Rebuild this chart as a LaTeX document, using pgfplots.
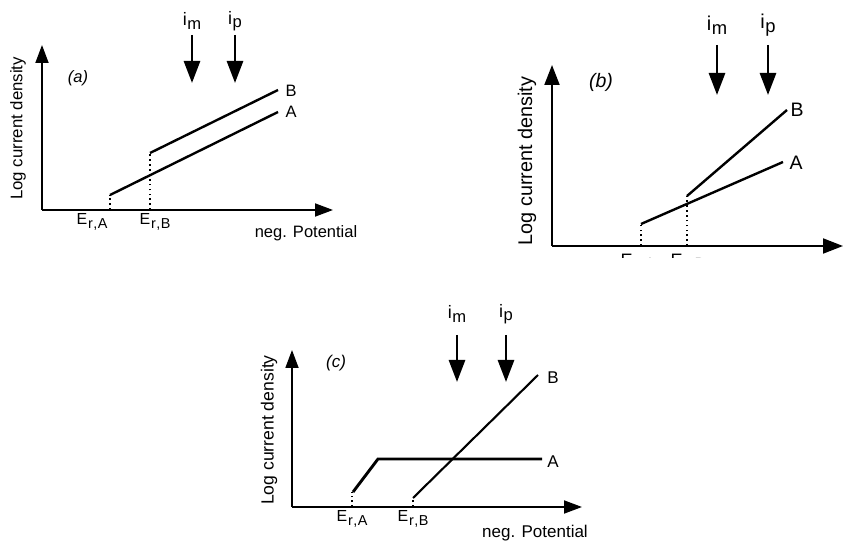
\documentclass[border=0pt]{standalone}
\usepackage{fontspec}
\setmainfont{Liberation Sans}
\usepackage{pgfplots}
\pgfplotsset{compat=1.18}
\usetikzlibrary{arrows.meta}

\pgfplotsset{panel/.style={
  scale only axis, axis lines=left,
  axis line style={line width=1.8pt, -{Triangle[width=13pt,length=18pt]}},
  xtick=\empty, ytick=\empty, clip=false,
  anchor=south west,
}}
\tikzset{
  curve/.style={line width=2.4pt},
  dots/.style={line width=1.7pt, dash pattern=on 1.7pt off 3.2pt},
  bigarrow/.style={line width=2.8pt, -{Triangle[width=16pt,length=22pt]}},
}
\newcommand{\Er}[1]{E\hspace{1pt}\raisebox{-0.2em}{\scalebox{0.9}{r\hspace{0.5pt},\hspace{0.5pt}#1}}}
\newcommand{\cur}[1]{i\hspace{0.5pt}\raisebox{-0.18em}{\scalebox{0.92}{#1}}}

\begin{document}
\begin{tikzpicture}
\path[use as bounding box] (0pt,0pt) rectangle (843pt,541pt);

% ---------- panel (a)
\begin{axis}[panel, at={(42pt,331pt)}, width=291pt, height=165pt,
  xmin=42, xmax=333, ymin=331, ymax=496,
  font=\fontsize{16.5}{19}\selectfont,
  ylabel={\fontsize{16.8}{19}\selectfont Log current density},
  ylabel style={at={(axis description cs:-0.0825,0.494)}, anchor=center}]
\addplot[curve] coordinates {(110,346) (278,429)};
\addplot[curve] coordinates {(150,388) (278,451)};
\addplot[dots] coordinates {(110,331) (110,346)};
\addplot[dots] coordinates {(150,331) (150,388)};
\node at (axis cs:291,450) {B};
\node at (axis cs:291,429) {A};
\node at (axis cs:78,463) {\itshape (a)};
\node[font=\fontsize{16}{18}\selectfont] at (axis cs:92,319) {\Er{A}};
\node[font=\fontsize{16}{18}\selectfont] at (axis cs:155,319) {\Er{B}};
\node at (axis cs:306,308) {neg. Potential};
\draw[bigarrow] (axis cs:192,506) -- (axis cs:192,458);
\draw[bigarrow] (axis cs:235,506) -- (axis cs:235,458);
\node[font=\fontsize{18}{20}\selectfont] at (axis cs:192,520) {\cur{m}};
\node[font=\fontsize{18}{20}\selectfont] at (axis cs:235,520) {\cur{p}};
\end{axis}

% ---------- panel (b)
\begin{scope}
\clip (440pt,283pt) rectangle (843pt,541pt);
\begin{axis}[panel, at={(552pt,295pt)}, width=291pt, height=181pt,
  xmin=552, xmax=843, ymin=295, ymax=476,
  axis line style={line width=2pt, -{Triangle[width=15pt,length=20pt]}},
  font=\fontsize{19.5}{22}\selectfont,
  ylabel={\fontsize{19.8}{22}\selectfont Log current density},
  ylabel style={at={(axis description cs:-0.0859,0.47)}, anchor=center}]
\addplot[curve] coordinates {(641,317) (783,379)};
\addplot[curve] coordinates {(687,345) (787,431)};
\addplot[dots] coordinates {(641,295) (641,317)};
\addplot[dots] coordinates {(687,295) (687,345)};
\node at (axis cs:797,431) {B};
\node at (axis cs:796,378) {A};
\node at (axis cs:601,459) {\itshape (b)};
\node[font=\fontsize{18}{20}\selectfont] at (axis cs:638,278) {\Er{A}};
\node[font=\fontsize{18}{20}\selectfont] at (axis cs:688,278) {\Er{B}};
\draw[bigarrow] (axis cs:717,496) -- (axis cs:717,446);
\draw[bigarrow] (axis cs:768,496) -- (axis cs:768,446);
\node[font=\fontsize{20}{22}\selectfont] at (axis cs:717,516) {\cur{m}};
\node[font=\fontsize{20}{22}\selectfont] at (axis cs:768,516) {\cur{p}};
\end{axis}
\end{scope}

% ---------- panel (c)
\begin{axis}[panel, at={(292pt,34pt)}, width=290pt, height=157pt,
  xmin=292, xmax=582, ymin=34, ymax=191,
  font=\fontsize{17}{20}\selectfont,
  ylabel={\fontsize{17.6}{20}\selectfont Log current density},
  ylabel style={at={(axis description cs:-0.079,0.49)}, anchor=center}]
\addplot[line width=2.9pt] coordinates {(353,49) (378,82) (542,82)};
\addplot[line width=2.1pt] coordinates {(413,43) (538,166)};
\addplot[dots] coordinates {(352,34) (352,49)};
\addplot[dots] coordinates {(413,34) (413,43)};
\node at (axis cs:553,163) {B};
\node at (axis cs:553,79) {A};
\node at (axis cs:336,178) {\itshape (c)};
\node[font=\fontsize{16}{18}\selectfont] at (axis cs:352,22) {\Er{A}};
\node[font=\fontsize{16}{18}\selectfont] at (axis cs:413,22) {\Er{B}};
\node at (axis cs:535,8) {neg. Potential};
\draw[bigarrow] (axis cs:457,206) -- (axis cs:457,159);
\draw[bigarrow] (axis cs:506,206) -- (axis cs:506,159);
\node[font=\fontsize{18}{20}\selectfont] at (axis cs:457,227) {\cur{m}};
\node[font=\fontsize{18}{20}\selectfont] at (axis cs:506,227) {\cur{p}};
\end{axis}
\end{tikzpicture}
\end{document}
